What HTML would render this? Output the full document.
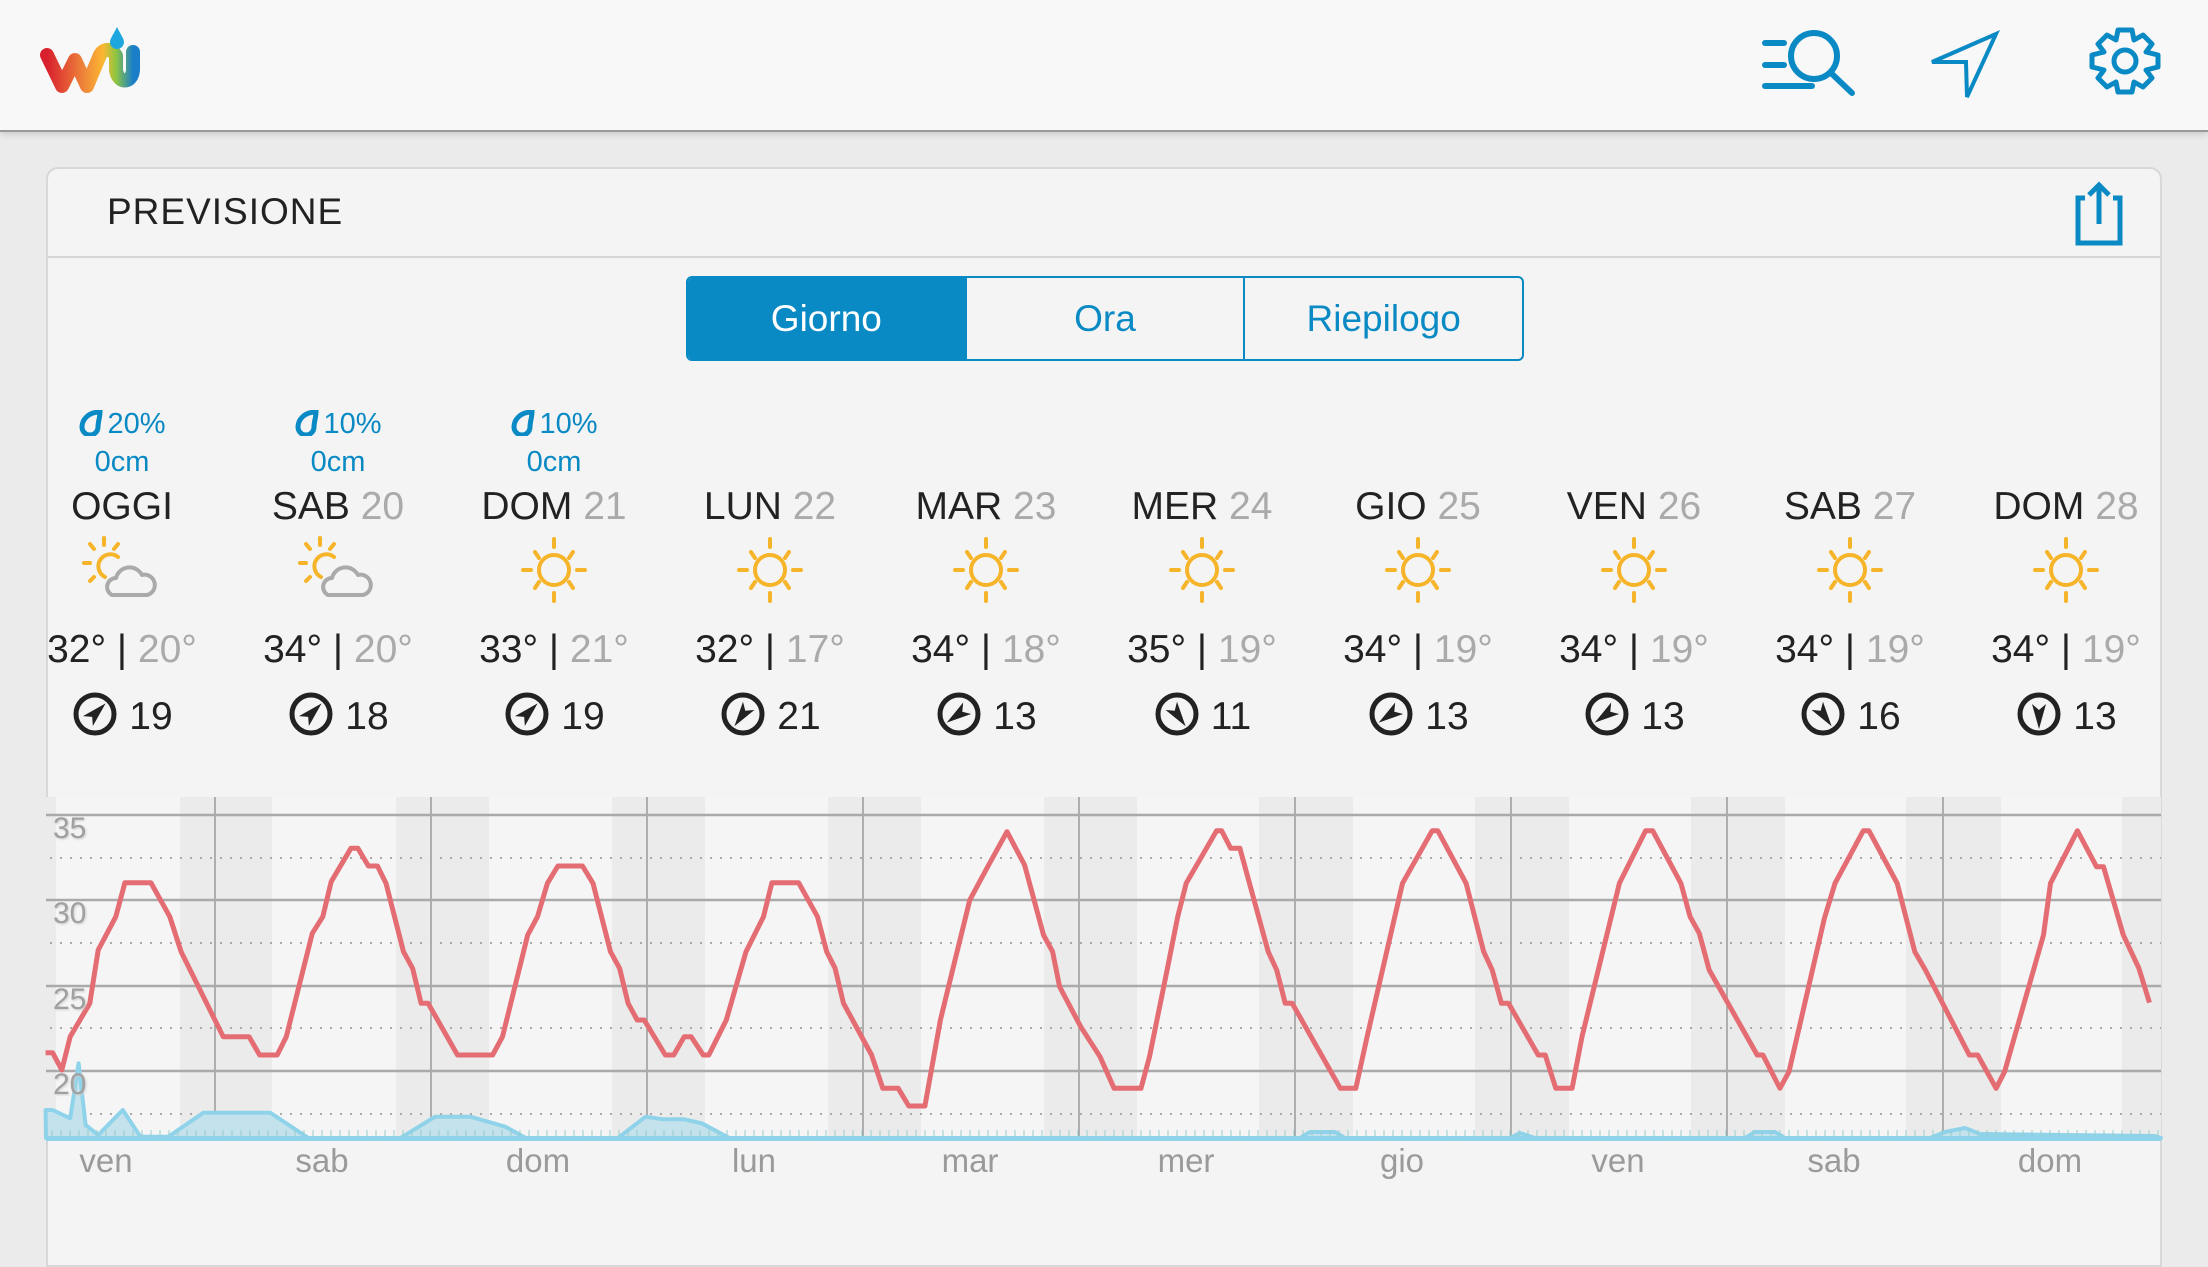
<!DOCTYPE html>
<html><head><meta charset="utf-8">
<style>
*{margin:0;padding:0;box-sizing:border-box}
body{width:2208px;height:1242px;overflow:hidden;background:#ebebeb;font-family:"Liberation Sans",sans-serif;position:relative}
.top{position:absolute;left:0;top:0;width:2208px;height:132px;background:#f8f8f8;border-bottom:2px solid #999;box-shadow:0 3px 6px rgba(0,0,0,.12)}
.card{position:absolute;left:46px;top:167px;width:2116px;height:1100px;background:#f4f4f4;border:2px solid #d8d8d8;border-radius:12px 12px 0 0}
.hdr{position:absolute;left:0;top:0;width:100%;height:89px;border-bottom:2px solid #d6d6d6}
.hdr span{position:absolute;left:59px;top:22px;font-size:37px;color:#222;letter-spacing:1px}
.seg{position:absolute;left:638px;top:107px;width:838px;height:85px;border:2px solid #0a8ac4;border-radius:6px;display:flex;overflow:hidden}
.seg div{flex:1;text-align:center;line-height:81px;font-size:37px;color:#0a8ac4;border-left:2px solid #0a8ac4}
.seg div:first-child{border-left:none;background:#0a8ac4;color:#fff}
.col{position:absolute;width:216px;text-align:center}
.pp{font-size:29px;color:#0a8ac4}
.day{font-size:39px;color:#222}
.day b{font-weight:normal;color:#aaa}
.tmp{font-size:39px;color:#222;white-space:nowrap}
.tmp i{font-style:normal;color:#aaa}
.wd{font-size:39px;color:#222}
</style></head><body>
<div class="top">
<svg width="2208" height="132" style="position:absolute;left:0;top:0">
<defs><linearGradient id="lg" x1="0" x2="1"><stop offset="0" stop-color="#d8202f"/><stop offset=".45" stop-color="#f08a3a"/><stop offset=".65" stop-color="#fbb731"/><stop offset=".8" stop-color="#8fc640"/><stop offset="1" stop-color="#1a7fc8"/></linearGradient></defs>
<path d="M47 55 L62 86 L75 60 L87 86 L100 55 C104 48 112 48 116 56 L116 70 C118 84 132 84 133 70 L133 52" fill="none" stroke="url(#lg)" stroke-width="14" stroke-linecap="round" stroke-linejoin="round"/>
<path d="M117 27 C113 35 110 39 110 42 A7 7 0 0 0 124 42 C124 39 121 35 117 27Z" fill="#1ea7de"/>
<g stroke="#0a8ac4" stroke-width="6" fill="none" stroke-linecap="round">
<line x1="1765" y1="43" x2="1784" y2="43"/><line x1="1765" y1="65" x2="1784" y2="65"/><line x1="1765" y1="86" x2="1812" y2="86"/>
<circle cx="1814" cy="56" r="23"/><line x1="1831" y1="73" x2="1852" y2="93"/>
<path d="M1996 34 L1932 62 L1966 62 L1967 97 Z" stroke-width="4" stroke-linejoin="miter"/>
<circle cx="2125" cy="61" r="11" stroke-width="5"/>
<path d="M2118 30 L2132 30 L2134 40 L2143 35 L2152 44 L2146 52 L2158 55 L2158 67 L2146 70 L2152 78 L2143 87 L2134 82 L2132 92 L2118 92 L2116 82 L2107 87 L2098 78 L2104 70 L2092 67 L2092 55 L2104 52 L2098 44 L2107 35 L2116 40 Z" stroke-width="5" stroke-linejoin="round"/>
</g></svg>
</div>
<div class="card">
<div class="hdr"><span>PREVISIONE</span>
<svg width="60" height="70" style="position:absolute;left:2024px;top:11px"><g stroke="#0a8ac4" stroke-width="5" fill="none"><path d="M13 18 H6 V63 H48 V18 H41"/><line x1="27" y1="5" x2="27" y2="44"/><path d="M17 15 L27 5 L37 15"/></g></svg>
</div>
<div class="seg"><div>Giorno</div><div>Ora</div><div>Riepilogo</div></div>
</div>
<div id="cols"></div>
<svg id="ch" width="2208" height="1242" style="position:absolute;left:0;top:0"></svg>
<script>
var days=[["OGGI","",32,20,19,0,1],["SAB","20",34,20,18,0,1],["DOM","21",33,21,19,0,0],["LUN","22",32,17,21,170,0],["MAR","23",34,18,13,190,0],["MER","24",35,19,11,100,0],["GIO","25",34,19,13,190,0],["VEN","26",34,19,13,190,0],["SAB","27",34,19,16,100,0],["DOM","28",34,19,13,135,0]];
var pr=["20%","10%","10%"];
var h="";
days.forEach(function(d,i){
 var c=122+216*i,l=c-108;
 if(i<3){h+='<div class="col pp" style="left:'+l+'px;top:408px"><svg width="26" height="26" style="vertical-align:-3px;margin-right:3px"><path d="M22 2 C10 2 4 10 4 17 A8 8 0 0 0 20 17 C20 12 22 7 22 2Z" fill="none" stroke="#0a8ac4" stroke-width="5"/></svg>'+pr[i]+'</div>';
 h+='<div class="col pp" style="left:'+l+'px;top:446px">0cm</div>';}
 h+='<div class="col day" style="left:'+l+'px;top:485px">'+d[0]+(d[1]?' <b>'+d[1]+'</b>':'')+'</div>';
 h+='<div class="col tmp" style="left:'+l+'px;top:628px">'+d[2]+'° | <i>'+d[3]+'°</i></div>';
 h+='<div class="col wd" style="left:'+l+'px;top:690px"><svg width="48" height="48" style="vertical-align:-9px;margin-right:10px"><circle cx="24" cy="24" r="19" fill="none" stroke="#222" stroke-width="5"/><g transform="rotate('+(45+d[5])+' 24 24)"><path d="M24 9 L31 34 L24 28 L17 34Z" fill="#222"/></g></svg>'+d[4]+'</div>';
 var s='<svg width="100" height="90" style="position:absolute;left:'+(c-50)+'px;top:525px">';
 if(d[6]){s+='<g stroke="#f5b429" stroke-width="4" fill="none" stroke-linecap="round"><path d="M46 32 A12 12 0 1 0 33 52"/><line x1="32" y1="13" x2="32" y2="20"/><line x1="18" y1="19" x2="22" y2="24"/><line x1="46" y1="19" x2="42" y2="24"/><line x1="12" y1="38" x2="18" y2="38"/><line x1="18" y1="56" x2="22" y2="52"/></g><path d="M40 70 A9 9 0 0 1 44 53 A14 14 0 0 1 70 50 A10 10 0 0 1 75 70 Z" fill="none" stroke="#aaa" stroke-width="4" stroke-linejoin="round"/>';}
 else{s+='<g stroke="#f5b429" stroke-width="4" fill="none" stroke-linecap="round"><circle cx="50" cy="45" r="15"/><line x1="50" y1="14" x2="50" y2="22"/><line x1="50" y1="68" x2="50" y2="76"/><line x1="19" y1="45" x2="27" y2="45"/><line x1="73" y1="45" x2="81" y2="45"/><line x1="31" y1="27" x2="35" y2="33"/><line x1="69" y1="27" x2="65" y2="33"/><line x1="31" y1="63" x2="35" y2="57"/><line x1="69" y1="63" x2="65" y2="57"/></g>';}
 h+=s+'</svg>';
});
document.getElementById('cols').innerHTML=h;
var g='';
g+='<rect x="46" y="797" width="2115" height="343" fill="#f5f5f5"/>';
[[46,56],[180,272],[396,489],[612,705],[828,921],[1044,1137],[1259,1353],[1475,1569],[1691,1785],[1906,2001],[2122,2161]].forEach(function(b){g+='<rect x="'+b[0]+'" y="797" width="'+(b[1]-b[0])+'" height="343" fill="#ebebeb"/>';});
for(var k=1;k<=9;k++){var x=-1+216*k;g+='<line x1="'+x+'" y1="797" x2="'+x+'" y2="1140" stroke="#999" stroke-width="1.5"/>';}
[815,900,986,1071].forEach(function(y){g+='<line x1="46" y1="'+y+'" x2="2161" y2="'+y+'" stroke="#aaa" stroke-width="2.5"/>';});
[858,943,1028,1114].forEach(function(y){g+='<line x1="50" y1="'+y+'" x2="2161" y2="'+y+'" stroke="#aaa" stroke-width="2" stroke-dasharray="2 8"/>';});
var p1=[[65,818],[75,818],[88,870],[100,770],[128,670],[140,510],[165,410],[178,308],[215,308],[242,410],[258,515],[318,770],[355,770],[370,825],[395,825],[408,770],[445,460],[460,410],[472,305],[500,205],[510,205],[525,258],[538,258],[550,310],[575,515],[588,565],[600,670],[610,670],[652,825],[702,825],[716,770],[752,465],[766,410],[780,310],[795,258],[830,258],[845,310],[870,515],[883,565],[895,670],[908,720],[918,720],[948,825],[960,825],[975,770],[985,770],[1002,825],[1010,825],[1035,720],[1063,515],[1088,410],[1100,308],[1138,308],[1165,410],[1178,515],[1190,565],[1202,670],[1242,825],[1258,925],[1280,925],[1295,978],[1318,978],[1340,720],[1358,565],[1382,360],[1408,258],[1435,155],[1460,255],[1487,465],[1500,515],[1510,620],[1540,740]];
var p2=[[0,830],[20,925],[58,925],[70,830],[95,570],[110,410],[122,310],[165,152],[172,152],[185,205],[198,205],[238,515],[250,570],[262,670],[272,670],[340,925],[362,925],[378,770],[428,310],[470,152],[478,152],[518,310],[543,515],[555,570],[568,670],[578,670],[620,825],[630,825],[645,925],[668,925],[682,770],[735,310],[772,152],[782,152],[822,310],[835,410],[848,460],[862,570],[930,825],[938,825],[962,925],[975,875],[1025,415],[1040,310],[1080,152],[1088,152],[1128,310],[1153,515],[1168,570],[1230,825],[1242,825],[1268,925],[1280,875],[1335,465],[1345,310],[1383,152],[1410,260],[1420,260],[1448,465],[1470,565],[1485,668]];
var pts=p1.map(function(p){return [(p[0]/1.425).toFixed(1),(780+p[1]/3).toFixed(1)]}).concat(p2.map(function(p){return [(1100+p[0]/1.415).toFixed(1),(780+p[1]/3).toFixed(1)]}));
var rn=[[65,990],[75,990],[100,1015],[112,850],[122,1035],[140,1065],[175,990],[200,1070],[240,1070],[290,998],[385,998],[440,1075],[570,1075],[620,1010],[670,1010],[720,1040],[750,1075],[880,1075],[920,1010],[945,1018],[975,1018],[1000,1030],[1040,1075]].map(function(p){return [(p[0]/1.425).toFixed(1),(780+p[1]/3).toFixed(1)]});
rn=rn.concat([[1300,1138],[1310,1132],[1335,1132],[1345,1138],[1510,1138],[1520,1133],[1535,1138],[1745,1138],[1755,1132],[1775,1132],[1785,1138],[1930,1138],[1945,1132],[1965,1128],[1980,1134],[2155,1136]]);
g+='<path d="M46 1138 L'+rn.join(' L')+' L2161 1138Z" fill="#c4e2ec" stroke="#8fd3ea" stroke-width="4" stroke-linejoin="round"/>';
for(var x=52;x<2161;x+=9)g+='<line x1="'+x+'" y1="1130" x2="'+x+'" y2="1138" stroke="#9cc" stroke-width="1"/>';
g+='<line x1="46" y1="1139" x2="2161" y2="1139" stroke="#8fd3ea" stroke-width="4"/>';
g+='<path d="M'+pts.join(' L')+'" fill="none" stroke="#e46d74" stroke-width="5" stroke-linejoin="round"/>';
[["35",828],["30",913],["25",999],["20",1084]].forEach(function(t){g+='<text x="53" y="'+(t[1]+10)+'" font-size="30" fill="#a0a0a0" font-family="Liberation Sans Narrow,Liberation Sans,sans-serif" style="text-shadow:1px 1px 2px #ccc">'+t[0]+'</text>';});
["ven","sab","dom","lun","mar","mer","gio","ven","sab","dom"].forEach(function(t,i){g+='<text x="'+(106+216*i)+'" y="1172" font-size="33" fill="#9a9a9a" text-anchor="middle" font-family="Liberation Sans,sans-serif">'+t+'</text>';});
document.getElementById('ch').innerHTML=g;
</script>
</body></html>
